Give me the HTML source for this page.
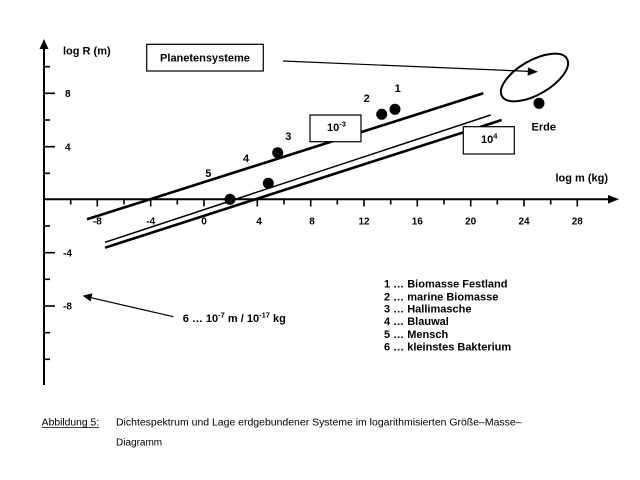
<!DOCTYPE html>
<html><head><meta charset="utf-8"><style>
html,body{margin:0;padding:0;background:#fff;}
svg{display:block;}
text{font-family:"Liberation Sans",Arial,sans-serif;fill:#000;}
.b{font-weight:bold;font-size:11px;}
.t{font-weight:bold;font-size:10px;}
</style></head><body>
<svg width="640" height="480" viewBox="0 0 640 480" xmlns="http://www.w3.org/2000/svg">
<rect width="640" height="480" fill="#fff"/>
<!-- axes -->
<line x1="44" y1="46" x2="44" y2="385" stroke="#000" stroke-width="2"/>
<polygon points="44,39 39.5,49 48.5,49" fill="#000"/>
<line x1="43" y1="199.3" x2="610" y2="199.3" stroke="#000" stroke-width="2"/>
<polygon points="619,199.3 608,195 608,203.6" fill="#000"/>
<!-- x ticks -->
<g stroke="#000" stroke-width="1.6">
<line x1="70.7" y1="199" x2="70.7" y2="204.5"/>
<line x1="97.3" y1="199" x2="97.3" y2="206.5"/>
<line x1="124" y1="199" x2="124" y2="204.5"/>
<line x1="150.7" y1="199" x2="150.7" y2="206.5"/>
<line x1="177.3" y1="199" x2="177.3" y2="204.5"/>
<line x1="204" y1="199" x2="204" y2="206.5"/>
<line x1="230.7" y1="199" x2="230.7" y2="204.5"/>
<line x1="257.3" y1="199" x2="257.3" y2="206.5"/>
<line x1="284" y1="199" x2="284" y2="204.5"/>
<line x1="310.7" y1="199" x2="310.7" y2="206.5"/>
<line x1="337.3" y1="199" x2="337.3" y2="204.5"/>
<line x1="364" y1="199" x2="364" y2="206.5"/>
<line x1="390.7" y1="199" x2="390.7" y2="204.5"/>
<line x1="417.3" y1="199" x2="417.3" y2="206.5"/>
<line x1="444" y1="199" x2="444" y2="204.5"/>
<line x1="470.7" y1="199" x2="470.7" y2="206.5"/>
<line x1="497.3" y1="199" x2="497.3" y2="204.5"/>
<line x1="524" y1="199" x2="524" y2="206.5"/>
<line x1="550.7" y1="199" x2="550.7" y2="204.5"/>
<line x1="577.3" y1="199" x2="577.3" y2="206.5"/>
<!-- y ticks -->
<line x1="44" y1="66.7" x2="50" y2="66.7"/>
<line x1="44" y1="93.3" x2="55" y2="93.3"/>
<line x1="44" y1="120" x2="50" y2="120"/>
<line x1="44" y1="146.7" x2="55" y2="146.7"/>
<line x1="44" y1="173.3" x2="50" y2="173.3"/>
<line x1="44" y1="226" x2="50" y2="226"/>
<line x1="44" y1="252.7" x2="55" y2="252.7"/>
<line x1="44" y1="279.3" x2="50" y2="279.3"/>
<line x1="44" y1="306" x2="55" y2="306"/>
<line x1="44" y1="332.7" x2="50" y2="332.7"/>
<line x1="44" y1="359.3" x2="50" y2="359.3"/>
</g>
<!-- x tick labels -->
<g class="t" text-anchor="middle">
<text x="97.3" y="224.5">-8</text>
<text x="150.7" y="224.5">-4</text>
<text x="204" y="224.5">0</text>
<text x="259" y="224.5">4</text>
<text x="312" y="224.5">8</text>
<text x="364" y="224.5">12</text>
<text x="417.3" y="224.5">16</text>
<text x="470.7" y="224.5">20</text>
<text x="524" y="224.5">24</text>
<text x="577.3" y="224.5">28</text>
</g>
<!-- y tick labels -->
<g class="t">
<text x="65" y="97">8</text>
<text x="65" y="150.5">4</text>
<text x="63" y="256.5">-4</text>
<text x="63" y="309.5">-8</text>
</g>
<text class="b" x="63" y="54.5">log R (m)</text>
<text class="b" x="555.5" y="181.5">log m (kg)</text>
<!-- lines -->
<line x1="87" y1="219.3" x2="483.3" y2="93.3" stroke="#000" stroke-width="2.6"/>
<line x1="105" y1="242.3" x2="490.7" y2="115" stroke="#000" stroke-width="1.5"/>
<line x1="105" y1="247.7" x2="501.7" y2="120" stroke="#000" stroke-width="2.6"/>
<!-- boxes -->
<rect x="310" y="115" width="51" height="26.7" fill="#fff" stroke="#000" stroke-width="1.2"/>
<text class="b" x="327" y="131">10<tspan font-size="7.5" dy="-4.5">-3</tspan></text>
<rect x="463.3" y="126.7" width="51" height="27.3" fill="#fff" stroke="#000" stroke-width="1.2"/>
<text class="b" x="481" y="143">10<tspan font-size="7.5" dy="-4.5">4</tspan></text>
<rect x="146.7" y="44.3" width="116.6" height="26.7" fill="#fff" stroke="#000" stroke-width="1.2"/>
<text class="b" x="205" y="61.5" text-anchor="middle">Planetensysteme</text>
<!-- arrow to ellipse -->
<line x1="283" y1="61" x2="530" y2="71.4" stroke="#000" stroke-width="1.2"/>
<polygon points="538,71.7 528,67.5 527.6,75.8" fill="#000"/>
<ellipse cx="534.5" cy="77.5" rx="37.5" ry="17" transform="rotate(-30 534.5 77.5)" fill="none" stroke="#000" stroke-width="2"/>
<!-- dots -->
<g fill="#000">
<circle cx="230" cy="199.3" r="5.5"/>
<circle cx="268.3" cy="183.3" r="5.5"/>
<circle cx="277.7" cy="152.7" r="5.5"/>
<circle cx="381.7" cy="114.3" r="5.5"/>
<circle cx="395" cy="109.3" r="5.5"/>
<circle cx="539" cy="103.3" r="5.5"/>
</g>
<g class="b" text-anchor="middle">
<text x="397.7" y="92">1</text>
<text x="366.7" y="102">2</text>
<text x="288.3" y="140">3</text>
<text x="246" y="162">4</text>
<text x="208.3" y="177">5</text>
</g>
<text class="b" x="531.5" y="130.5">Erde</text>
<!-- annotation 6 -->
<line x1="173.3" y1="316.7" x2="90" y2="297.4" stroke="#000" stroke-width="1.2"/>
<polygon points="82.7,295.7 92.5,293.3 90.6,301.5" fill="#000"/>
<text class="b" x="182.7" y="322">6 … 10<tspan font-size="7.5" dy="-4.5">-7</tspan><tspan dy="4.5"> m / 10</tspan><tspan font-size="7.5" dy="-4.5">-17</tspan><tspan dy="4.5"> kg</tspan></text>
<!-- legend -->
<g class="b">
<text x="384" y="287.3">1 … Biomasse Festland</text>
<text x="384" y="300.3">2 … marine Biomasse</text>
<text x="384" y="312.7">3 … Hallimasche</text>
<text x="384" y="325.2">4 … Blauwal</text>
<text x="384" y="337.8">5 … Mensch</text>
<text x="384" y="350.3">6 … kleinstes Bakterium</text>
</g>
<!-- caption -->
<text x="41.7" y="425.5" font-size="10" textLength="57.5" lengthAdjust="spacingAndGlyphs">Abbildung 5:</text>
<line x1="41.7" y1="427.5" x2="99.2" y2="427.5" stroke="#000" stroke-width="0.8"/>
<text x="116" y="425.5" font-size="10" textLength="405.5" lengthAdjust="spacingAndGlyphs">Dichtespektrum und Lage erdgebundener Systeme im logarithmisierten Größe–Masse–</text>
<text x="116" y="445.5" font-size="10">Diagramm</text>
</svg>
</body></html>
